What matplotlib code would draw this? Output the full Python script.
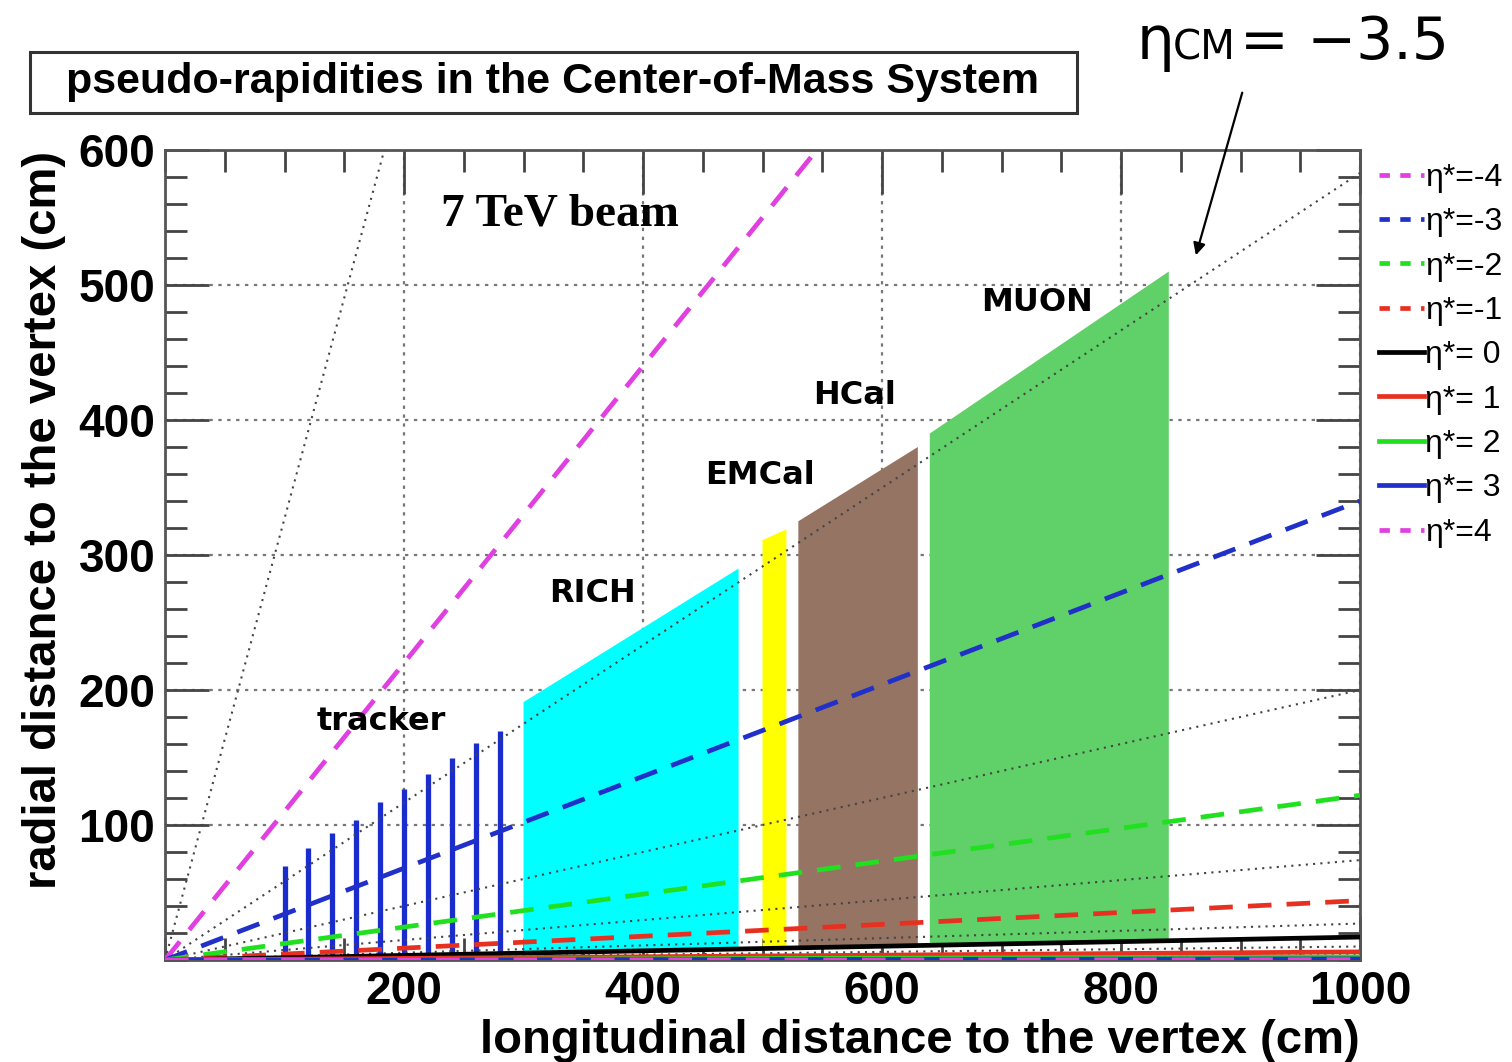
import matplotlib
matplotlib.use("Agg")
import matplotlib.pyplot as plt
from matplotlib.patches import Rectangle
from matplotlib.lines import Line2D

plt.rcParams['font.family'] = ['Liberation Sans', 'DejaVu Sans']

# eta* lines (straight lines from the vertex), radius reached at z = 1000 cm
eta_star = [-4, -3, -2, -1, 0, 1, 2, 3, 4]
eta_r_end = [1100, 340, 122, 44, 17, 6, 2.2, 0.8, 0.3]
eta_colors = ['#e040e0', '#2030c8', '#20e020', '#e83020', 'black',
              '#e83020', '#20e020', '#2030c8', '#e040e0']
eta_dashed = [True, True, True, True, False, False, False, False, True]
eta_labels = ['η*=-4', 'η*=-3', 'η*=-2', 'η*=-1', 'η*= 0',
              'η*= 1', 'η*= 2', 'η*= 3', 'η*=4']

# half-integer eta* guide lines (gray dotted)
guide_eta = [-4.5, -3.5, -2.5, -1.5, -0.5, 0.5, 1.5, 2.5]
guide_r_end = [3270, 583, 200, 74, 27, 10, 3.6, 1.3]
z_end = 1000

# tracker planes
tracker_z = [100, 120, 140, 160, 180, 200, 220, 240, 260, 280]
tracker_rmax = [70, 83, 94, 104, 117, 127, 138, 150, 161, 170]

# detectors: z range, top radius at both ends, bottom radius
det_names = ['RICH', 'EMCal', 'HCal', 'MUON']
det_z = [(300, 480), (500, 520), (530, 630), (640, 840)]
det_top = [(191, 290), (311, 319), (325, 380), (390, 510)]
det_bot = [(6, 8), (9, 9), (9, 11), (11, 14)]
det_colors = ['#00ffff', '#ffff00', '#967464', '#60d068']
det_label_pos = [(593, 593), (760, 475), (855, 395), (1037, 302)]  # pixels

W, H = 1512, 1062
fig = plt.figure(figsize=(15.12, 10.62), dpi=100)
ax = fig.add_axes([165 / W, 1 - 960 / H, (1360 - 165) / W, (960 - 150) / H])


def fx(px):
    return px / W


def fy(py):
    return 1 - py / H


# detector fills
for (z0, z1), (t0, t1), (b0, b1), c in zip(det_z, det_top, det_bot, det_colors):
    ax.fill([z0, z1, z1, z0], [b0, b1, t1, t0], color=c, lw=0, zorder=1)

# tracker
for z, r in zip(tracker_z, tracker_rmax):
    ax.plot([z, z], [0, r], color='#1a2ccc', lw=3.8, zorder=2, solid_capstyle='butt')

# dotted guide lines
for r in guide_r_end:
    ax.plot([0, z_end], [0, r], color='#444444', ls=(0, (1, 2.5)), lw=1.5, zorder=3)

# eta* lines
handles = []
for r, c, d, lab in zip(eta_r_end, eta_colors, eta_dashed, eta_labels):
    ls = (0, (5, 3.2)) if d else '-'
    ax.plot([0, z_end], [0, r], color=c, ls=ls, lw=3.4, zorder=4)
    handles.append(Line2D([], [], color=c, ls=(0, (2.2, 2.2)) if d else '-', lw=3.4))

ax.set_xlim(0, 1000)
ax.set_ylim(0, 600)
ax.set_xticks([200, 400, 600, 800, 1000])
ax.set_yticks([100, 200, 300, 400, 500, 600])
ax.set_xticks(range(0, 1001, 50), minor=True)
ax.set_yticks(range(0, 601, 20), minor=True)
ax.tick_params(which='both', direction='in', top=True, right=True, colors='#444444',
               labelcolor='black', labelsize=33, width=2)
ax.tick_params(which='major', length=32, pad=7)
ax.tick_params(which='minor', length=16)
for lbl in ax.get_xticklabels() + ax.get_yticklabels():
    lbl.set_fontweight('bold')
for s in ax.spines.values():
    s.set_color('#555555')
    s.set_linewidth(2)
ax.grid(which='major', color='#777777', ls=(0, (1.5, 2.5)), lw=1.6)
ax.set_axisbelow(True)

ax.set_xlabel('longitudinal distance to the vertex (cm)', fontsize=34,
              fontweight='bold', loc='right', labelpad=4)
ax.set_ylabel('radial distance to the vertex (cm)', fontsize=34, fontweight='bold')
ax.yaxis.set_label_coords((66 - 165) / (1360 - 165), (960 - 520) / (960 - 150))

# legend outside on the right
ax.legend(handles, eta_labels, loc='upper left', bbox_to_anchor=(fx(1366), fy(150)),
          bbox_transform=fig.transFigure, frameon=False, fontsize=23,
          handlelength=1.4, handletextpad=0.05, labelspacing=0.45, borderaxespad=0)

# title box
fig.patches.append(Rectangle((fx(30), fy(113)), fx(1047), 61 / H, transform=fig.transFigure,
                             fill=False, edgecolor='#333333', lw=2.2))
fig.text(fx(553), fy(82), 'pseudo-rapidities in the Center-of-Mass System', fontsize=31,
         fontweight='bold', ha='center', va='center')

# labels in the plot
fig.text(fx(560), fy(215), '7 TeV beam', family='Liberation Serif', fontsize=34,
         fontweight='bold', ha='center', va='center')
fig.text(fx(381), fy(722), 'tracker', family='DejaVu Sans', fontsize=23,
         fontweight='bold', ha='center', va='center')
for name, (px, py) in zip(det_names, det_label_pos):
    fig.text(fx(px), fy(py), name, family='DejaVu Sans', fontsize=23,
             fontweight='bold', ha='center', va='center')

# eta_CM annotation
fig.text(fx(1137), fy(42), 'η', family='DejaVu Sans', fontsize=43, ha='left', va='center')
fig.text(fx(1173), fy(48), 'CM', family='DejaVu Sans', fontsize=29, ha='left', va='center')
fig.text(fx(1240), fy(42), '= −3.5', family='DejaVu Sans', fontsize=42, ha='left', va='center')
ax.annotate('', xy=(862, 520), xycoords='data',
            xytext=(fx(1243), fy(90)), textcoords='figure fraction',
            arrowprops=dict(arrowstyle='-|>', color='black', lw=1.6, mutation_scale=18))

fig.savefig('out.png', dpi=100)
